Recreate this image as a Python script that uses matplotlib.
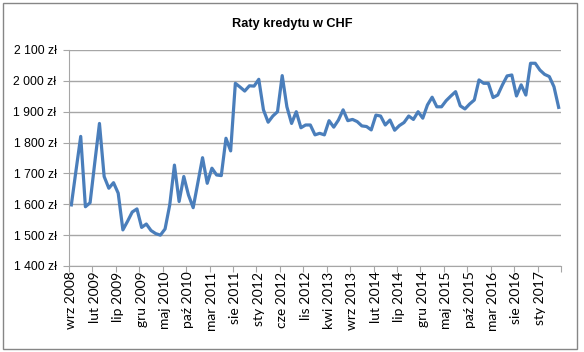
import matplotlib
matplotlib.use('Agg')
import matplotlib.pyplot as plt
from matplotlib.patches import Rectangle
from matplotlib.ticker import FixedLocator, FuncFormatter

months = ['sty', 'lut', 'mar', 'kwi', 'maj', 'cze', 'lip', 'sie', 'wrz', 'paź', 'lis', 'gru']

# monthly instalments, wrz 2008 .. maj 2017
rates = [1598, 1710, 1820, 1592, 1605, 1735, 1862, 1690, 1652, 1670,
         1636, 1517, 1545, 1575, 1585, 1525, 1536, 1515, 1505, 1500,
         1520, 1598, 1727, 1609, 1690, 1630, 1589, 1670, 1751, 1668,
         1717, 1695, 1693, 1814, 1773, 1992, 1980, 1967, 1984, 1983,
         2005, 1906, 1866, 1886, 1900, 2017, 1916, 1862, 1900, 1848,
         1857, 1857, 1825, 1830, 1825, 1871, 1850, 1873, 1906, 1871,
         1875, 1868, 1854, 1852, 1841, 1889, 1886, 1857, 1873, 1840,
         1855, 1865, 1886, 1875, 1900, 1879, 1922, 1947, 1916, 1916,
         1936, 1951, 1965, 1919, 1909, 1925, 1938, 2003, 1992, 1992,
         1946, 1954, 1987, 2016, 2019, 1951, 1987, 1954, 2057, 2057,
         2035, 2021, 2014, 1981, 1914]

labels = []
for i in range(len(rates)):
    m = (8 + i) % 12
    y = 2008 + (8 + i) // 12
    labels.append(f'{months[m]} {y}')

yticks = list(range(1400, 2101, 100))

fig = plt.figure(figsize=(5.84, 3.52), dpi=100)
ax = fig.add_axes([69/584, 1 - 266/352, (561-69)/584, (266-50)/352])

x = list(range(len(rates)))
ax.plot(x, rates, color='#4a7ebb', linewidth=2.3, solid_joinstyle='round')

ax.set_xlim(-0.5, len(rates) - 0.5)
ax.set_ylim(1400, 2100)

ax.yaxis.set_major_locator(FixedLocator(yticks))
ax.yaxis.set_major_formatter(FuncFormatter(lambda v, p: f'{int(v):,} zł'.replace(',', ' ')))
ax.grid(axis='y', color='#a6a6a6', linewidth=1.0)
ax.set_axisbelow(True)

# tick marks at category boundaries, labels at category centres
ax.xaxis.set_major_locator(FixedLocator([k - 0.5 for k in range(0, len(rates) + 1, 5)]))
ax.xaxis.set_major_formatter(FuncFormatter(lambda v, p: ''))
ax.xaxis.set_minor_locator(FixedLocator(list(range(0, len(rates), 5))))
ax.set_xticklabels([labels[k] for k in range(0, len(rates), 5)], minor=True,
                   rotation=90, fontsize=10, family='Lato')
ax.tick_params(axis='x', which='major', length=4, color='#a6a6a6', direction='out')
ax.tick_params(axis='x', which='minor', length=0, pad=4)
ax.tick_params(axis='y', length=4, color='#a6a6a6', labelsize=8.8, pad=5)
for t in ax.get_yticklabels():
    t.set_family('Liberation Sans')

for s in ['top', 'right']:
    ax.spines[s].set_visible(False)
ax.spines['left'].set_color('#a6a6a6')
ax.spines['bottom'].set_color('#a6a6a6')

fig.text(0.5, 1 - 24/352, 'Raty kredytu w CHF', ha='center', va='center',
         fontsize=9.2, fontweight='bold', family='Liberation Sans')

fig.patches.append(Rectangle((3/584, 3/352), 574/584, 346/352, transform=fig.transFigure,
                             fill=False, edgecolor='#868686', linewidth=1.0))

fig.savefig('out.png', dpi=100)
